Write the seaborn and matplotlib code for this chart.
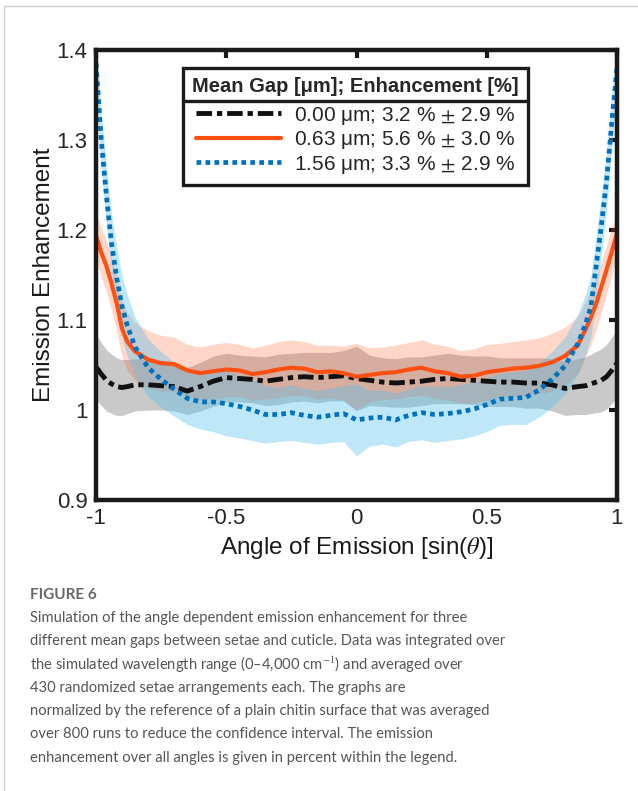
import matplotlib
matplotlib.use("Agg")
import matplotlib.pyplot as plt
from matplotlib.lines import Line2D
import seaborn as sns

# data
angle = [-1.00, -0.98, -0.96, -0.94, -0.92, -0.90, -0.88, -0.85,
         -0.80, -0.75, -0.70, -0.65, -0.60, -0.55, -0.50, -0.45, -0.40,
         -0.35, -0.30, -0.25, -0.20, -0.15, -0.10, -0.05, 0.00,
         0.05, 0.10, 0.15, 0.20, 0.25, 0.30, 0.35, 0.40, 0.45,
         0.50, 0.55, 0.60, 0.65, 0.70, 0.75, 0.80,
         0.85, 0.88, 0.90, 0.92, 0.94, 0.96, 0.98, 1.00]

gap000_mean = [1.048, 1.040, 1.033, 1.029, 1.026, 1.025, 1.026, 1.028,
               1.028, 1.027, 1.026, 1.021, 1.026, 1.032, 1.036, 1.035, 1.034,
               1.032, 1.034, 1.036, 1.037, 1.036, 1.037, 1.038, 1.035,
               1.033, 1.031, 1.030, 1.031, 1.032, 1.034, 1.035, 1.034, 1.033,
               1.032, 1.031, 1.031, 1.030, 1.030, 1.028, 1.024,
               1.026, 1.027, 1.029, 1.031, 1.033, 1.037, 1.044, 1.052]

gap063_mean = [1.194, 1.175, 1.160, 1.140, 1.118, 1.090, 1.076, 1.065,
               1.056, 1.052, 1.051, 1.044, 1.041, 1.043, 1.045, 1.044, 1.040,
               1.042, 1.045, 1.047, 1.046, 1.042, 1.043, 1.041, 1.037,
               1.039, 1.041, 1.042, 1.045, 1.047, 1.043, 1.041, 1.037, 1.038,
               1.042, 1.044, 1.046, 1.047, 1.049, 1.053, 1.060,
               1.072, 1.090, 1.103, 1.118, 1.137, 1.156, 1.176, 1.196]

gap156_mean = [1.385, 1.300, 1.238, 1.184, 1.146, 1.115, 1.094, 1.070,
               1.047, 1.034, 1.023, 1.013, 1.009, 1.009, 1.007, 1.004, 1.000,
               0.995, 0.995, 0.997, 0.994, 0.992, 0.994, 0.996, 0.989,
               0.991, 0.992, 0.989, 0.994, 0.997, 0.995, 0.996, 0.998, 1.001,
               1.006, 1.012, 1.013, 1.014, 1.022, 1.034, 1.049,
               1.074, 1.096, 1.115, 1.160, 1.205, 1.255, 1.320, 1.380]

# half width of the shaded confidence band
gap000_ci = [0.036, 0.035, 0.034, 0.033, 0.032, 0.031, 0.030, 0.029,
             0.028, 0.027, 0.027, 0.026, 0.027, 0.028, 0.027, 0.026, 0.026,
             0.027, 0.028, 0.027, 0.027, 0.028, 0.027, 0.028, 0.036,
             0.028, 0.027, 0.027, 0.028, 0.027, 0.027, 0.028, 0.027, 0.027,
             0.028, 0.027, 0.027, 0.028, 0.028, 0.029, 0.030,
             0.031, 0.032, 0.033, 0.034, 0.035, 0.036, 0.037, 0.038]

gap063_ci = [0.026, 0.027, 0.028, 0.029, 0.030, 0.031, 0.032, 0.032,
             0.032, 0.031, 0.030, 0.029, 0.029, 0.030, 0.030, 0.029, 0.029,
             0.030, 0.031, 0.031, 0.030, 0.030, 0.029, 0.030, 0.037,
             0.030, 0.029, 0.030, 0.030, 0.031, 0.030, 0.030, 0.029, 0.030,
             0.031, 0.030, 0.030, 0.031, 0.031, 0.032, 0.032,
             0.032, 0.031, 0.030, 0.029, 0.028, 0.027, 0.026, 0.026]

gap156_ci = [0.030, 0.031, 0.032, 0.033, 0.034, 0.034, 0.034, 0.033,
             0.032, 0.031, 0.030, 0.029, 0.030, 0.033, 0.036, 0.035, 0.034,
             0.032, 0.030, 0.031, 0.030, 0.030, 0.030, 0.031, 0.040,
             0.031, 0.030, 0.030, 0.029, 0.030, 0.031, 0.030, 0.030, 0.030,
             0.030, 0.029, 0.029, 0.030, 0.030, 0.031, 0.032,
             0.033, 0.034, 0.034, 0.034, 0.033, 0.032, 0.031, 0.030]

legend_title = "Mean Gap [μm]; Enhancement [%]"
series_labels = [r"0.00 μm; 3.2 % $\pm$ 2.9 %",
                 r"0.63 μm; 5.6 % $\pm$ 3.0 %",
                 r"1.56 μm; 3.3 % $\pm$ 2.9 %"]
x_ticks = [-1, -0.5, 0, 0.5, 1]
x_ticklabels = ["-1", "-0.5", "0", "0.5", "1"]
y_ticks = [0.9, 1.0, 1.1, 1.2, 1.3, 1.4]
y_ticklabels = ["0.9", "1", "1.1", "1.2", "1.3", "1.4"]

caption_head = "FIGURE 6"
caption_lines = [
    "Simulation of the angle dependent emission enhancement for three",
    "different mean gaps between setae and cuticle. Data was integrated over",
    "the simulated wavelength range (0\u20134,000 cm$^{\u22121}$) and averaged over",
    "430 randomized setae arrangements each. The graphs are",
    "normalized by the reference of a plain chitin surface that was averaged",
    "over 800 runs to reduce the confidence interval. The emission",
    "enhancement over all angles is given in percent within the legend.",
]

# styling
sns.set_theme(style="white")
plt.rcParams["font.family"] = ["Liberation Sans", "DejaVu Sans"]
plt.rcParams["mathtext.fontset"] = "stix"
plt.rcParams["axes.unicode_minus"] = False

W, H = 638, 791
fig = plt.figure(figsize=(W / 100, H / 100), dpi=100)
ax = fig.add_axes([96 / W, 1 - 500 / H, 521 / W, 450 / H])

black = "#111111"
orange = "#ff5014"
blue = "#0072bd"

series = [
    (gap000_mean, gap000_ci, black, "#000000", 0.21, (0, (3.2, 1.0, 1.1, 1.0)), 3.5),
    (gap063_mean, gap063_ci, orange, "#ff5a1e", 0.24, "-", 3.0),
    (gap156_mean, gap156_ci, blue, "#4dbeee", 0.36, (0, (1.0, 0.9)), 3.4),
]

for (mean, ci, col, band_col, alpha, ls, lw), lab in zip(series, series_labels):
    lower = [m - c for m, c in zip(mean, ci)]
    upper = [m + c for m, c in zip(mean, ci)]
    ax.fill_between(angle, lower, upper, color=band_col, alpha=alpha, lw=0)
    sns.lineplot(x=angle, y=mean, ax=ax, color=col, linestyle=ls, lw=lw,
                 label=lab, sort=False)

ax.set_xlim(-1, 1)
ax.set_ylim(0.9, 1.4)
ax.set_xticks(x_ticks)
ax.set_xticklabels(x_ticklabels)
ax.set_yticks(y_ticks)
ax.set_yticklabels(y_ticklabels)
ax.tick_params(direction="in", length=6, width=3, labelsize=16,
               labelcolor="#262626", color="#1a1a1a", pad=6,
               top=True, right=True)
for sp in ax.spines.values():
    sp.set_visible(True)
    sp.set_color("#1a1a1a")
    sp.set_linewidth(3.2)

ax.set_xlabel(r"Angle of Emission [sin($\theta$)]", fontsize=17.5,
              color="#1a1a1a", labelpad=4)
ax.set_ylabel("Emission Enhancement", fontsize=17.5, color="#1a1a1a",
              labelpad=1)

leg = ax.legend(title=legend_title, loc="upper left",
                bbox_to_anchor=((183 - 96) / 521, (500 - 68) / 450),
                borderaxespad=0, fancybox=False, frameon=True,
                fontsize=15, title_fontproperties={"weight": "bold", "size": 14.5},
                handlelength=4.1, handletextpad=0.6, labelspacing=0.12,
                borderpad=0.45)
leg._legend_box.sep = 6  # extra room between title row and entries
frame = leg.get_frame()
frame.set_edgecolor("#1a1a1a")
frame.set_linewidth(2.4)
frame.set_facecolor("white")
frame.set_alpha(1)

# separator line under the legend title
fig.canvas.draw()
r = fig.canvas.get_renderer()
tb = leg.get_title().get_window_extent(r)
hb = leg._legend_handle_box.get_window_extent(r)
fb = frame.get_window_extent(r)
ysep = (tb.y0 + hb.y1) / 2
fig.add_artist(Line2D([fb.x0 / W, fb.x1 / W], [ysep / H, ysep / H],
                      color="#1a1a1a", lw=2.4, transform=fig.transFigure))

# caption
cap_font = ["Lato", "DejaVu Sans"]
fig.text(30 / W, 1 - 595 / H, caption_head, fontsize=11, color="#666666",
         fontweight="bold", family=cap_font, va="center", ha="left")
for i, line in enumerate(caption_lines):
    fig.text(30 / W, 1 - (618 + i * 23.3) / H, line, fontsize=10.6,
             color="#555555", family=cap_font, fontweight="normal",
             va="center", ha="left")

# page frame (top and left edges)
fig.add_artist(Line2D([4 / W, 4 / W], [0, 1 - 6 / H], color="#cccccc", lw=1,
                      transform=fig.transFigure))
fig.add_artist(Line2D([4 / W, 1], [1 - 6 / H, 1 - 6 / H], color="#cccccc", lw=1,
                      transform=fig.transFigure))

fig.savefig("out.png", dpi=100)
